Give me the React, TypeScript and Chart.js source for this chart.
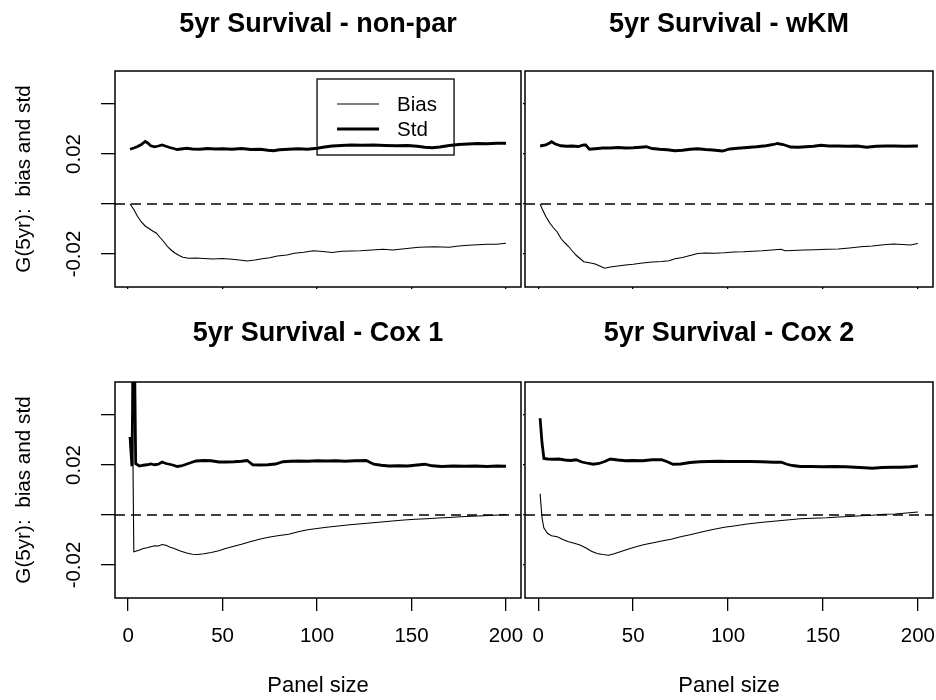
import React, { useEffect, useRef } from "react";
import { Chart, registerables } from "chart.js";

Chart.register(...registerables);

const FONT = "'Liberation Sans', Arial, Helvetica, sans-serif";

// ---- axes ----
const X_MIN = -6.96;
const X_MAX = 207.96;
const Y_MIN = -0.0332;
const Y_MAX = 0.0532;
const X_TICKS = [0, 50, 100, 150, 200];
const X_TICK_LABELS = ["0", "50", "100", "150", "200"];
const Y_TICKS = [-0.02, 0, 0.02, 0.04];
const Y_TICK_LABELS = ["-0.02", "", "0.02", ""];

const TITLES = [
  "5yr Survival - non-par",
  "5yr Survival - wKM",
  "5yr Survival - Cox 1",
  "5yr Survival - Cox 2",
];
const LEGEND_LABELS = ["Bias", "Std"];
const LEGEND_X = 100;
const LEGEND_Y = 0.05;
const X_TITLE = "Panel size";
const Y_TITLE = "G(5yr):  bias and std";

// ---- non-par ----
const NONPAR_STD_N = [1, 3, 5, 7, 9, 10, 12, 14, 16, 18, 20, 22, 24, 26, 28, 31, 34, 38, 42, 46, 50, 55, 60, 65, 70, 74, 77, 80, 85, 90, 95, 100, 104, 108, 113, 118, 124, 130, 136, 142, 148, 153, 157, 161, 165, 170, 175, 180, 185, 190, 195, 200];
const NONPAR_STD = [0.0219, 0.0224, 0.023, 0.0238, 0.025, 0.0246, 0.0233, 0.0229, 0.0232, 0.0236, 0.0231, 0.0226, 0.0222, 0.0218, 0.022, 0.0223, 0.022, 0.0219, 0.0222, 0.022, 0.0221, 0.0219, 0.0222, 0.0218, 0.0219, 0.0215, 0.0213, 0.0217, 0.0219, 0.0221, 0.0219, 0.0223, 0.0228, 0.0232, 0.0234, 0.0236, 0.0235, 0.0236, 0.0234, 0.0233, 0.0234, 0.0231, 0.0227, 0.0225, 0.0228, 0.0234, 0.0238, 0.024, 0.0242, 0.0241, 0.0243, 0.0243];
const NONPAR_BIAS_N = [1, 3, 5, 7, 9, 11, 13, 15, 17, 19, 21, 23, 25, 27, 29, 32, 36, 40, 45, 50, 55, 60, 63, 67, 71, 75, 79, 84, 88, 93, 98, 103, 108, 113, 118, 123, 127, 131, 135, 140, 145, 150, 154, 158, 162, 166, 170, 175, 180, 185, 190, 195, 200];
const NONPAR_BIAS = [0, -0.0022, -0.005, -0.0072, -0.0088, -0.0098, -0.0108, -0.0117, -0.0135, -0.0152, -0.0172, -0.0186, -0.0197, -0.0206, -0.0213, -0.0217, -0.0216, -0.0218, -0.022, -0.0218, -0.0221, -0.0225, -0.0228, -0.0224, -0.0219, -0.0215, -0.0208, -0.0204, -0.0197, -0.0193, -0.0187, -0.019, -0.0194, -0.0189, -0.0188, -0.0187, -0.0185, -0.0183, -0.0181, -0.0184, -0.018, -0.0176, -0.0173, -0.0172, -0.0171, -0.0172, -0.0173, -0.0168, -0.0165, -0.0163, -0.0161, -0.0161, -0.0157];

// ---- wKM ----
const WKM_STD_N = [1, 4, 6, 7, 9, 12, 15, 18, 21, 24, 25, 27, 30, 34, 38, 42, 46, 50, 54, 57, 60, 64, 68, 72, 76, 80, 84, 88, 92, 97, 101, 105, 110, 115, 120, 124, 126, 129, 133, 137, 141, 145, 149, 153, 158, 163, 168, 173, 178, 183, 188, 193, 200];
const WKM_STD = [0.0232, 0.0236, 0.0244, 0.0249, 0.024, 0.0233, 0.0231, 0.0232, 0.023, 0.0236, 0.0236, 0.0219, 0.0221, 0.0224, 0.0224, 0.0226, 0.0224, 0.0225, 0.0227, 0.0229, 0.0222, 0.0219, 0.0217, 0.0213, 0.0215, 0.0219, 0.0221, 0.0218, 0.0216, 0.0212, 0.022, 0.0223, 0.0226, 0.0229, 0.0233, 0.0238, 0.0242, 0.0238, 0.0228, 0.0227, 0.0229, 0.0231, 0.0235, 0.0232, 0.0232, 0.0231, 0.0232, 0.0227, 0.0231, 0.0232, 0.0232, 0.0231, 0.0232];
const WKM_BIAS_N = [1, 2, 4, 6, 8, 10, 12, 14, 16, 18, 20, 22, 24, 27, 30, 33, 35, 38, 42, 46, 50, 55, 60, 65, 69, 72, 76, 80, 84, 88, 93, 98, 103, 108, 113, 118, 123, 128, 130, 134, 140, 146, 152, 158, 164, 170, 176, 182, 187, 192, 196, 200];
const WKM_BIAS = [0, -0.0018, -0.005, -0.0075, -0.0095, -0.0112, -0.0138, -0.0155, -0.017, -0.0188, -0.0205, -0.0218, -0.0231, -0.0235, -0.024, -0.025, -0.0257, -0.0252, -0.0248, -0.0244, -0.0241, -0.0236, -0.0232, -0.023, -0.0227, -0.0219, -0.0214, -0.0206, -0.0198, -0.0196, -0.0197, -0.0195, -0.0192, -0.0191, -0.0189, -0.0187, -0.0184, -0.0181, -0.0187, -0.0186, -0.0184, -0.0183, -0.0181, -0.018, -0.0176, -0.0171, -0.0168, -0.0163, -0.016, -0.0162, -0.0164, -0.0158];

// ---- Cox 1 ----
const COX1_STD_N = [1, 2, 3, 4, 6, 8, 10, 12, 14, 16, 18, 20, 22, 24, 26, 28, 30, 33, 36, 40, 44, 48, 52, 56, 60, 63, 66, 70, 74, 78, 82, 86, 90, 95, 100, 105, 110, 115, 120, 126, 130, 134, 138, 143, 148, 153, 157, 161, 166, 172, 178, 184, 190, 195, 200];
const COX1_STD = [0.0312, 0.0195, 0.09, 0.0205, 0.0196, 0.0199, 0.0201, 0.0204, 0.0201, 0.0203, 0.0212, 0.0206, 0.0203, 0.0199, 0.0194, 0.0196, 0.0201, 0.0209, 0.0216, 0.0218, 0.0217, 0.0212, 0.0212, 0.0213, 0.0215, 0.0218, 0.0201, 0.02, 0.0201, 0.0204, 0.0213, 0.0215, 0.0216, 0.0215, 0.0217, 0.0216, 0.0217, 0.0215, 0.0217, 0.0218, 0.0203, 0.0199, 0.0196, 0.0197, 0.0196, 0.02, 0.0203, 0.0197, 0.0194, 0.0196, 0.0195, 0.0196, 0.0194, 0.0196, 0.0195];
const COX1_BIAS_N = [1, 2, 3, 4, 6, 8, 10, 12, 14, 16, 18, 20, 22, 24, 26, 28, 31, 34, 37, 40, 44, 48, 52, 56, 60, 65, 70, 75, 80, 85, 90, 95, 100, 105, 110, 116, 122, 128, 134, 140, 146, 152, 158, 164, 170, 176, 182, 188, 194, 200];
const COX1_BIAS = [0.08, 0.065, -0.0147, -0.0145, -0.014, -0.0134, -0.0131, -0.0127, -0.0123, -0.0124, -0.0118, -0.0121, -0.0128, -0.0133, -0.0139, -0.0145, -0.0152, -0.0157, -0.0158, -0.0155, -0.015, -0.0143, -0.0133, -0.0125, -0.0117, -0.0106, -0.0096, -0.0088, -0.0082, -0.0077, -0.0067, -0.0059, -0.0054, -0.0049, -0.0045, -0.004, -0.0036, -0.0032, -0.0028, -0.0024, -0.002, -0.0017, -0.0015, -0.0012, -0.001, -0.0007, -0.0005, -0.0003, -0.0001, 0.0002];

// ---- Cox 2 ----
const COX2_STD_N = [1, 2, 3, 5, 8, 11, 14, 17, 20, 23, 26, 29, 32, 35, 38, 42, 46, 50, 55, 60, 65, 68, 71, 75, 80, 85, 90, 95, 100, 106, 112, 118, 124, 128, 131, 134, 138, 144, 150, 156, 162, 167, 172, 176, 181, 186, 191, 196, 200];
const COX2_STD = [0.0387, 0.0289, 0.0226, 0.0224, 0.0223, 0.0224, 0.022, 0.0218, 0.0221, 0.0212, 0.0207, 0.0203, 0.0206, 0.0214, 0.0224, 0.022, 0.0217, 0.0218, 0.0217, 0.0221, 0.0221, 0.0213, 0.0203, 0.0204, 0.021, 0.0213, 0.0214, 0.0215, 0.0214, 0.0214, 0.0214, 0.0213, 0.0211, 0.0211, 0.0203, 0.0198, 0.0194, 0.0194, 0.0193, 0.0194, 0.0193, 0.0191, 0.0189, 0.0187, 0.019, 0.0191, 0.0191, 0.0193, 0.0196];
const COX2_BIAS_N = [1, 2, 3, 5, 7, 10, 13, 16, 19, 22, 25, 28, 31, 34, 37, 40, 44, 48, 52, 56, 60, 65, 70, 75, 80, 86, 92, 98, 104, 110, 117, 124, 131, 138, 145, 152, 158, 164, 170, 176, 182, 188, 194, 200];
const COX2_BIAS = [0.0085, -0.0011, -0.0052, -0.0074, -0.0083, -0.0087, -0.0098, -0.0107, -0.0113, -0.012, -0.0131, -0.0145, -0.0154, -0.0158, -0.0161, -0.0155, -0.0145, -0.0135, -0.0126, -0.0118, -0.0112, -0.0104, -0.0097, -0.0087, -0.0079, -0.0068, -0.0058, -0.0049, -0.0043, -0.0036, -0.003, -0.0025, -0.002, -0.0015, -0.0013, -0.0011, -0.0008, -0.0006, -0.0003, -0.0001, 0.0003, 0.0004, 0.0008, 0.0012];

type PanelSpec = {
  title: string;
  stdN: number[];
  std: number[];
  biasN: number[];
  bias: number[];
  left: number;
  top: number;
  width: number;
  height: number;
  yWidth: number;
  padRight: number;
  xLabels: boolean;
  yLabels: boolean;
  legend: boolean;
  titleBaseline: number;
};

const PANELS: PanelSpec[] = [
  { title: TITLES[0], stdN: NONPAR_STD_N, std: NONPAR_STD, biasN: NONPAR_BIAS_N, bias: NONPAR_BIAS, left: 0, top: 0, width: 523, height: 311, yWidth: 115, padRight: 2, xLabels: false, yLabels: true, legend: true, titleBaseline: 31.5 },
  { title: TITLES[1], stdN: WKM_STD_N, std: WKM_STD, biasN: WKM_BIAS_N, bias: WKM_BIAS, left: 523, top: 0, width: 413, height: 311, yWidth: 2, padRight: 3, xLabels: false, yLabels: false, legend: false, titleBaseline: 31.5 },
  { title: TITLES[2], stdN: COX1_STD_N, std: COX1_STD, biasN: COX1_BIAS_N, bias: COX1_BIAS, left: 0, top: 311, width: 523, height: 389, yWidth: 115, padRight: 2, xLabels: true, yLabels: true, legend: false, titleBaseline: 29.7 },
  { title: TITLES[3], stdN: COX2_STD_N, std: COX2_STD, biasN: COX2_BIAS_N, bias: COX2_BIAS, left: 523, top: 311, width: 413, height: 389, yWidth: 2, padRight: 3, xLabels: true, yLabels: false, legend: false, titleBaseline: 29.7 },
];

const AREA_TOP = 71;
const AREA_BOTTOM = 287;

const toPoints = (xs: number[], ys: number[]) => xs.map((x, i) => ({ x, y: ys[i] }));

function makeDecor(spec: PanelSpec) {
  return {
    id: "decor",
    afterDraw(chart: any) {
      const { ctx, chartArea: a } = chart;
      ctx.save();
      ctx.strokeStyle = "#000";
      ctx.lineWidth = 1.5;
      ctx.setLineDash([]);
      ctx.strokeRect(a.left, a.top, a.right - a.left, a.bottom - a.top);

      ctx.fillStyle = "#000";
      ctx.font = `bold 27px ${FONT}`;
      ctx.textAlign = "center";
      ctx.textBaseline = "alphabetic";
      ctx.fillText(spec.title, (a.left + a.right) / 2, spec.titleBaseline);

      if (spec.legend) {
        const xs = chart.scales.x;
        const ys = chart.scales.y;
        const lx = xs.getPixelForValue(LEGEND_X);
        const ly = ys.getPixelForValue(LEGEND_Y);
        const w = 137;
        const h = 76;
        ctx.lineWidth = 1.3;
        ctx.strokeRect(lx, ly, w, h);
        const widths = [1.1, 2.8];
        const rowY = [25, 50];
        ctx.font = `20.5px ${FONT}`;
        ctx.textAlign = "left";
        ctx.textBaseline = "middle";
        LEGEND_LABELS.forEach((lab, i) => {
          ctx.lineWidth = widths[i];
          ctx.beginPath();
          ctx.moveTo(lx + 20, ly + rowY[i]);
          ctx.lineTo(lx + 62, ly + rowY[i]);
          ctx.stroke();
          ctx.fillText(lab, lx + 80, ly + rowY[i] + 1.5);
        });
      }
      ctx.restore();
    },
  };
}

function Panel({ spec }: { spec: PanelSpec }) {
  const ref = useRef<HTMLCanvasElement | null>(null);
  useEffect(() => {
    if (!ref.current) return;
    const xHeight = spec.height - AREA_BOTTOM;
    const chart = new Chart(ref.current, {
      type: "line",
      data: {
        datasets: [
          { label: "Std", data: toPoints(spec.stdN, spec.std), borderColor: "#000", borderWidth: 2.8, pointRadius: 0, fill: false, tension: 0 },
          { label: "Bias", data: toPoints(spec.biasN, spec.bias), borderColor: "#000", borderWidth: 1.1, pointRadius: 0, fill: false, tension: 0 },
          { label: "zero", data: [{ x: X_MIN, y: 0 }, { x: X_MAX, y: 0 }], borderColor: "#000", borderWidth: 1.3, borderDash: [10, 6], pointRadius: 0, fill: false },
        ],
      } as any,
      options: {
        responsive: false,
        maintainAspectRatio: false,
        animation: false,
        devicePixelRatio: 1,
        events: [],
        layout: { padding: { left: 0, right: spec.padRight, top: AREA_TOP, bottom: 0 } },
        plugins: { legend: { display: false }, tooltip: { enabled: false }, title: { display: false } },
        scales: {
          x: {
            type: "linear",
            position: "bottom",
            min: X_MIN,
            max: X_MAX,
            afterBuildTicks: (s: any) => {
              s.ticks = X_TICKS.map((value) => ({ value }));
            },
            afterFit: (s: any) => {
              s.height = xHeight;
              s.paddingLeft = 0;
              s.paddingRight = 0;
              s.paddingTop = 0;
              s.paddingBottom = 0;
            },
            ticks: {
              display: spec.xLabels,
              autoSkip: false,
              maxRotation: 0,
              minRotation: 0,
              padding: 13.5,
              color: "#000",
              font: { family: FONT, size: 20.5 },
              callback: (_v: any, i: number) => X_TICK_LABELS[i],
            },
            grid: { display: true, drawOnChartArea: false, drawTicks: true, tickLength: spec.xLabels ? 13 : 2, color: "#000", lineWidth: 1.3 },
            border: { display: false },
            title: { display: spec.xLabels, text: X_TITLE, color: "#000", font: { family: FONT, size: 22 }, padding: { top: 0, bottom: 1 } },
          },
          y: {
            type: "linear",
            position: "left",
            min: Y_MIN,
            max: Y_MAX,
            afterBuildTicks: (s: any) => {
              s.ticks = Y_TICKS.map((value) => ({ value }));
            },
            afterFit: (s: any) => {
              s.width = spec.yWidth;
              s.paddingLeft = 0;
              s.paddingRight = 0;
              s.paddingTop = 0;
              s.paddingBottom = 0;
            },
            ticks: {
              display: spec.yLabels,
              autoSkip: false,
              minRotation: 90,
              maxRotation: 90,
              crossAlign: "center",
              padding: 3,
              color: "#000",
              font: { family: FONT, size: 20.5 },
              callback: (_v: any, i: number) => Y_TICK_LABELS[i],
            },
            grid: { display: true, drawOnChartArea: false, drawTicks: true, tickLength: spec.yLabels ? 14 : 3, color: "#000", lineWidth: 1.3 },
            border: { display: false },
            title: { display: spec.yLabels, text: Y_TITLE, color: "#000", font: { family: FONT, size: 20.7 }, padding: { top: 11.6, bottom: 0 } },
          },
        },
      } as any,
      plugins: [makeDecor(spec)],
    });
    return () => chart.destroy();
  }, [spec]);
  return (
    <canvas
      ref={ref}
      width={spec.width}
      height={spec.height}
      style={{ position: "absolute", left: spec.left, top: spec.top, width: spec.width, height: spec.height }}
    />
  );
}

export default function App() {
  useEffect(() => {
    document.body.style.margin = "0";
    document.body.style.background = "#fff";
  }, []);
  return (
    <div style={{ position: "relative", width: 936, height: 700, background: "#fff", overflow: "hidden" }}>
      {PANELS.map((p, i) => (
        <Panel key={i} spec={p} />
      ))}
    </div>
  );
}
